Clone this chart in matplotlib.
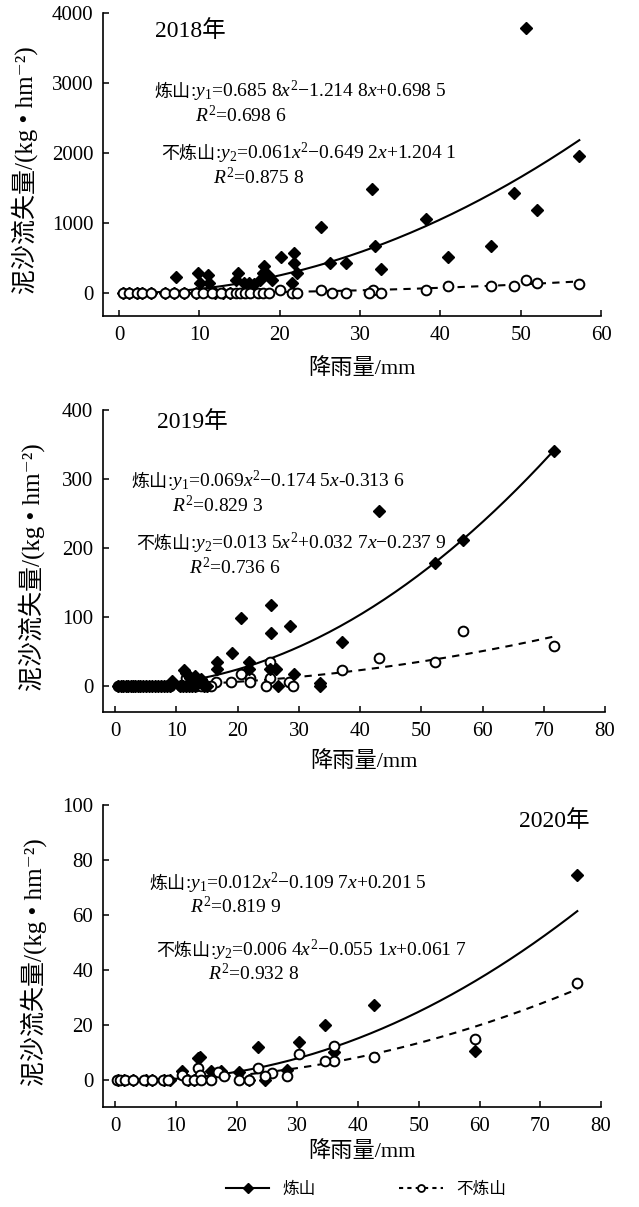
import numpy as np
import matplotlib
matplotlib.use('Agg')
import matplotlib.pyplot as plt
from matplotlib.lines import Line2D

plt.rcParams['font.family'] = ['Liberation Serif', 'Noto Sans CJK SC', 'DejaVu Serif']
plt.rcParams['mathtext.fontset'] = 'custom'
plt.rcParams['mathtext.rm'] = 'Liberation Serif'
plt.rcParams['mathtext.it'] = 'Liberation Serif:italic'

# ---- data: 2018 ----
x18_burn = [50.7, 57.3, 31.5, 49.2, 52.0, 38.2, 25.2, 31.9, 46.3, 40.9, 20.2, 21.8, 21.8, 26.2,
            28.2, 32.6, 22.2, 18.0, 17.9, 18.6, 14.8, 14.6, 11.1, 9.8, 7.1, 10.1, 11.2, 15.5,
            16.2, 16.8, 21.5, 17.5, 19.0,
            0.5, 1.2, 2.2, 2.9, 4.0, 5.7, 6.9, 8.1, 9.6, 12.0, 13.0, 13.8]
y18_burn = [3780, 1960, 1480, 1430, 1190, 1050, 940, 665, 665, 520, 520, 570, 430, 425,
            425, 335, 280, 380, 280, 250, 280, 180, 250, 280, 230, 135, 140, 140,
            135, 130, 140, 180, 180,
            0, 0, 0, 0, 0, 0, 0, 0, 0, 0, 0, 0]
x18_none = [20.0, 25.1, 31.6, 38.2, 40.9, 46.3, 49.2, 50.7, 52.0, 57.3,
            0.5, 1.2, 2.2, 2.9, 4.0, 5.7, 6.9, 8.1, 9.6, 10.5, 11.6, 12.7, 13.8, 14.6,
            15.1, 15.7, 16.3, 17.3, 17.9, 18.7, 21.5, 22.1, 26.5, 28.2, 31.1, 32.6]
y18_none = [48, 48, 48, 48, 95, 95, 95, 190, 143, 134,
            0, 0, 0, 0, 0, 0, 0, 0, 0, 0, 0, 0, 0, 0,
            0, 0, 0, 0, 0, 0, 0, 0, 0, 0, 0, 0]
coef18_burn = [0.6858, -1.2148, 0.6985]
coef18_none = [0.061, -0.6492, 1.2041]

# ---- data: 2019 ----
x19_burn = [71.7, 43.1, 56.8, 52.2, 25.4, 20.5, 25.4, 28.5, 37.1, 19.1, 16.7, 21.8, 11.2,
            16.7, 21.8, 25.2, 26.3, 29.2, 13.1, 12.2, 14.0, 9.3, 33.5, 11.6, 13.5,
            0.5, 0.9, 1.3, 1.7, 2.1, 2.5, 2.9, 3.3, 3.7, 4.1, 4.5, 5.0, 5.5, 6.0, 6.5,
            7.0, 7.5, 8.0, 8.5, 9.0, 10.5, 11.0, 11.5, 12.0, 12.5, 13.0, 14.5, 15.0,
            26.6, 33.5]
y19_burn = [340, 253, 212, 178, 117, 99, 76, 87, 64, 47, 35, 35, 23,
            25, 24, 24, 24, 17, 14, 12, 10, 7, 4, 18, 8,
            0, 0, 0, 0, 0, 0, 0, 0, 0, 0, 0, 0, 0, 0, 0,
            0, 0, 0, 0, 0, 0, 0, 0, 0, 0, 0, 0, 0,
            0, 0]
x19_none = [56.8, 71.7, 43.1, 52.2, 37.1, 25.2, 20.5, 22.0, 25.2, 18.9, 16.5, 22.0, 28.4, 11.5,
            0.5, 1.2, 1.9, 2.6, 3.4, 4.2, 5.0, 5.8, 6.6, 7.4, 8.2, 9.0, 10.8, 11.6,
            12.4, 13.2, 14.0, 14.8, 15.6, 24.7, 29.1]
y19_none = [80, 58, 40, 34, 23, 34, 17, 11, 11, 6, 6, 5, 5, 12,
            0, 0, 0, 0, 0, 0, 0, 0, 0, 0, 0, 0, 0, 0,
            0, 0, 0, 0, 0, 0, 0]
coef19_burn = [0.069, -0.1745, -0.3136]
coef19_none = [0.0135, 0.0327, -0.2379]

# ---- data: 2020 ----
x20_burn = [76.1, 42.7, 34.5, 30.3, 23.6, 59.3, 14.0, 13.6, 11.0, 15.8, 17.4, 20.4, 28.3, 36.0,
            0.5, 1.5, 3.0, 5.0, 6.0, 8.0, 9.0, 12.0, 13.0, 22.0, 24.7]
y20_burn = [74.5, 27.0, 20.0, 13.5, 12.0, 10.5, 8.3, 7.8, 3.0, 3.0, 3.0, 2.7, 3.5, 10.0,
            0, 0, 0, 0, 0, 0, 0, 0, 0, 0, 0]
x20_none = [76.1, 59.3, 42.7, 36.0, 36.0, 34.5, 30.3, 23.6, 25.9, 24.7, 28.3, 16.9, 17.9,
            13.6, 14.0, 11.0,
            0.3, 0.8, 1.6, 2.9, 4.7, 6.0, 7.8, 8.7, 11.9, 13.0, 14.1, 15.8, 20.4, 22.0]
y20_none = [35.3, 14.8, 8.1, 12.2, 6.7, 6.7, 9.4, 4.3, 2.4, 1.2, 1.2, 2.7, 1.2,
            4.3, 1.5, 1.5,
            0, 0, 0, 0, 0, 0, 0, 0, 0, 0, 0, 0, 0, 0]
coef20_burn = [0.012, -0.1097, 0.2015]
coef20_none = [0.0064, -0.0551, 0.0617]

years = ['2018年', '2019年', '2020年']
burn_eq = [':$y_1$=0.685 8$x^2$−1.214 8$x$+0.698 5',
           ':$y_1$=0.069$x^2$−0.174 5$x$-0.313 6',
           ':$y_1$=0.012$x^2$−0.109 7$x$+0.201 5']
burn_r2 = ['$R^2$=0.698 6', '$R^2$=0.829 3', '$R^2$=0.819 9']
none_eq = [':$y_2$=0.061$x^2$−0.649 2$x$+1.204 1',
           ':$y_2$=0.013 5$x^2$+0.032 7$x$−0.237 9',
           ':$y_2$=0.006 4$x^2$−0.055 1$x$+0.061 7']
none_r2 = ['$R^2$=0.875 8', '$R^2$=0.736 6', '$R^2$=0.932 8']

W, H = 639, 1207
fig = plt.figure(figsize=(W / 100, H / 100), dpi=100)

def fx(px):
  return px / W

def fy(py):
  return 1 - py / H

panels = [
  dict(box=(103, 13, 601, 316), xlim=(-2, 60), xt=np.arange(0, 61, 10), ylim=(-330, 4000),
       yt=np.arange(0, 4001, 1000), burn=(x18_burn, y18_burn, coef18_burn),
       none=(x18_none, y18_none, coef18_none), diam_top=False,
       year=(155, 37), eq1=(190, 97), r1=(195, 122), eq2=(215, 159), r2=(213, 184),
       xlab=-0.139, ylab=-0.131),
  dict(box=(103, 410, 605, 712), xlim=(-2, 80), xt=np.arange(0, 81, 10), ylim=(-38, 400),
       yt=np.arange(0, 401, 100), burn=(x19_burn, y19_burn, coef19_burn),
       none=(x19_none, y19_none, coef19_none), diam_top=True,
       year=(157, 428), eq1=(167, 487), r1=(172, 512), eq2=(190, 549), r2=(189, 574),
       xlab=-0.129, ylab=-0.116),
  dict(box=(103, 805, 601, 1107), xlim=(-2, 80), xt=np.arange(0, 81, 10), ylim=(-10, 100),
       yt=np.arange(0, 101, 20), burn=(x20_burn, y20_burn, coef20_burn),
       none=(x20_none, y20_none, coef20_none), diam_top=False,
       year=(519, 827), eq1=(185, 889), r1=(190, 913), eq2=(210, 956), r2=(208, 980),
       xlab=-0.113, ylab=-0.112),
]

for i, p in enumerate(panels):
  l, t, r, b = p['box']
  ax = fig.add_axes([fx(l), fy(b), (r - l) / W, (b - t) / H])
  ax.set_xlim(*p['xlim'])
  ax.set_ylim(*p['ylim'])
  ax.set_xticks(p['xt'])
  ax.set_yticks(p['yt'])
  for s in ['top', 'right']:
    ax.spines[s].set_visible(False)
  for s in ['left', 'bottom']:
    ax.spines[s].set_linewidth(1.2)
  ax.tick_params(direction='in', length=4, width=1.1, labelsize=15, pad=7)

  xb, yb, cb = p['burn']
  xn, yn, cn = p['none']
  xs = np.linspace(0, max(xb), 200)
  ax.plot(xs, np.polyval(cb, xs), color='black', lw=1.5, zorder=2)
  xs = np.linspace(0, max(xn), 200)
  ax.plot(xs, np.polyval(cn, xs), color='black', lw=1.5, ls='--', dashes=(3.5, 3), zorder=2)
  zd, zc = (4, 3) if p['diam_top'] else (3, 4)
  ax.plot(xb, yb, 'D', ms=6.2, color='black', ls='none', zorder=zd)
  ax.plot(xn, yn, 'o', ms=7, mfc='white', mec='black', mew=1.4, ls='none', zorder=zc)

  ax.set_xlabel('降雨量/mm', fontsize=16)
  ax.xaxis.set_label_coords(0.52, p['xlab'])
  ax.set_ylabel('泥沙流失量/(kg • hm⁻²)', fontsize=18)
  ax.yaxis.set_label_coords(p['ylab'], 0.48)

  yx, yy = p['year']
  fig.text(fx(yx), fy(yy), years[i], fontsize=17, ha='left', va='baseline')
  ex, ey = p['eq1']
  fig.text(fx(ex), fy(ey), '炼山', fontsize=13, ha='right', va='baseline')
  fig.text(fx(ex), fy(ey), burn_eq[i], fontsize=14, ha='left', va='baseline')
  rx, ry = p['r1']
  fig.text(fx(rx), fy(ry), burn_r2[i], fontsize=14, ha='left', va='baseline')
  ex, ey = p['eq2']
  fig.text(fx(ex), fy(ey), '不炼山', fontsize=13, ha='right', va='baseline')
  fig.text(fx(ex), fy(ey), none_eq[i], fontsize=14, ha='left', va='baseline')
  rx, ry = p['r2']
  fig.text(fx(rx), fy(ry), none_r2[i], fontsize=14, ha='left', va='baseline')

handles = [Line2D([], [], color='black', lw=1.5, marker='D', ms=5),
           Line2D([], [], color='black', lw=1.5, ls='--', dashes=(2, 2), marker='o', ms=5,
                  mfc='white', mew=1.3)]
fig.legend(handles, ['炼山', '不炼山'], loc='center', bbox_to_anchor=(fx(366), fy(1190)),
           ncol=2, frameon=False, fontsize=12, columnspacing=5, handlelength=2.6)

fig.savefig('out.png', dpi=100)
